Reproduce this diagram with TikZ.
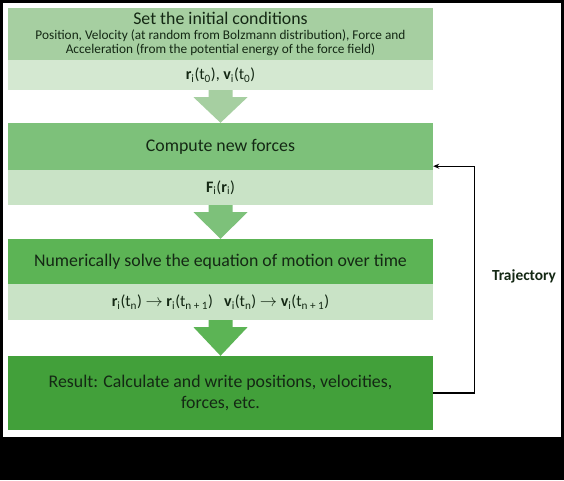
\documentclass[tikz,border=0pt]{standalone}
\usepackage{fontspec}
\setmainfont{Carlito}
\usetikzlibrary{arrows.meta}

\definecolor{initdark}{HTML}{A6CFA1}
\definecolor{initlight}{HTML}{D4E8D1}
\definecolor{forcedark}{HTML}{7DC17A}
\definecolor{steplight}{HTML}{C9E3C6}
\definecolor{solvedark}{HTML}{5CB455}
\definecolor{resultdark}{HTML}{42A03A}
\definecolor{boxtext}{HTML}{142814}

\newcommand{\blockarrow}[3]{%
	\fill [#3] ([xshift=-12pt]#1.south) -- ([xshift=-12pt,yshift=-7pt]#1.south)
		-- ([xshift=-27pt,yshift=-7pt]#1.south) -- (#2.north)
		-- ([xshift=27pt,yshift=-7pt]#1.south) -- ([xshift=12pt,yshift=-7pt]#1.south)
		-- ([xshift=12pt]#1.south) -- cycle;}

\begin{document}
\begin{tikzpicture}[x=1pt,y=-1pt]
				\tikzstyle{every node}+=[inner sep=0pt]
				\tikzstyle{stepbox}=[rectangle, minimum width=425pt, text=boxtext, align=center, font=\fontsize{17.8}{21}\selectfont]
				\tikzstyle{varbox}=[stepbox, fill=steplight, font=\fontsize{16}{18}\selectfont]
				\fill [black] (0,0) rectangle (564,480);
				\fill [white] (3,3) rectangle (561,437);
				% initial conditions
				\node [stepbox, fill=initdark, minimum height=52pt, font=\fontsize{13.3}{14}\selectfont] (init) at (220.5,34) {{\fontsize{17.8}{14}\selectfont Set the initial conditions}\\[1pt]
					Position, Velocity (at random from Bolzmann distribution), Force and\\
					Acceleration (from the potential energy of the force field)};
				\node [varbox, fill=initlight, minimum height=30pt] (initvar) at (220.5,75) {\textbf{r}\textsubscript{i}(t\textsubscript{0}), \textbf{v}\textsubscript{i}(t\textsubscript{0})};
				% forces
				\node [stepbox, fill=forcedark, minimum height=47pt] (force) at (220.5,146.5) {Compute new forces};
				\node [varbox, minimum height=35pt] (forcevar) at (220.5,187.5) {\textbf{F}\textsubscript{i}(\textbf{r}\textsubscript{i})};
				% equation of motion
				\node [stepbox, fill=solvedark, minimum height=45pt] (solve) at (220.5,261.5) {Numerically solve the equation of motion over time};
				\node [varbox, minimum height=36pt] (solvevar) at (220.5,302) {\textbf{r}\textsubscript{i}(t\textsubscript{n}) $\rightarrow$ \textbf{r}\textsubscript{i}(t\textsubscript{n + 1})\hspace{0.7em}\textbf{v}\textsubscript{i}(t\textsubscript{n}) $\rightarrow$ \textbf{v}\textsubscript{i}(t\textsubscript{n + 1})};
				% result
				\node [stepbox, fill=resultdark, minimum height=74pt] (result) at (220.5,393) {Result: Calculate and write positions, velocities,\\forces, etc.};
				\blockarrow{initvar}{force}{initdark}
				\blockarrow{forcevar}{solve}{forcedark}
				\blockarrow{solvevar}{result}{solvedark}
				% loop back
				\draw [black, line width=1.2pt, -{Stealth[length=6pt,width=5pt]}] (result.east) -- ++(41,0) |- ([yshift=4pt]force.south east);
				\node [font=\bfseries\fontsize{15.4}{18}\selectfont, text=boxtext] (traj) at (524,276) {Trajectory};
\end{tikzpicture}
\end{document}
